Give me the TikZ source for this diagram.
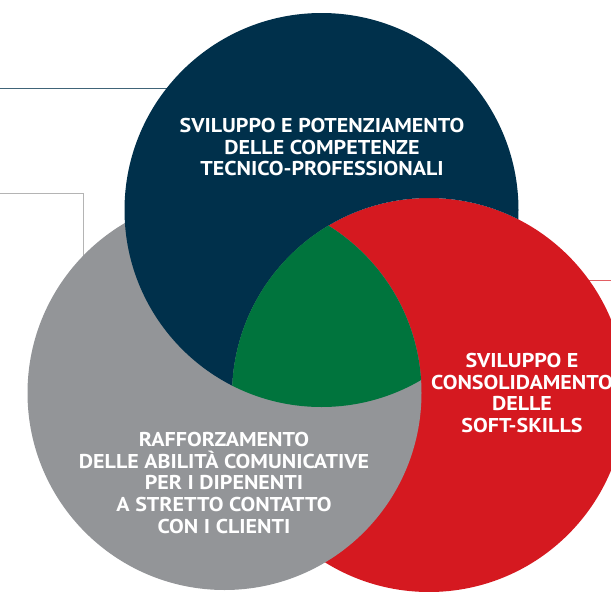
\documentclass[tikz,border=0pt]{standalone}
\usepackage{fontspec}
\setmainfont{PT Sans}[FakeStretch=1.1]
\definecolor{navyc}{HTML}{00304B}
\definecolor{redc}{HTML}{D51920}
\definecolor{grayc}{HTML}{939598}
\definecolor{greenc}{HTML}{00743D}
\definecolor{linegray}{HTML}{B4B4B4}
\newcommand{\navycircle}{(321.5,210) circle[radius=197]}
\newcommand{\redcircle}{(429,395) circle[radius=197]}
\newcommand{\graycircle}{(224.5,393) circle[radius=197]}
\tikzset{
  circletext/.style={text=white, font=\bfseries\fontsize{20}{21.7}\selectfont,
    align=center, inner sep=0pt, anchor=north},
  thinline/.style={line width=0.8pt}
}
\begin{document}
\begin{tikzpicture}[x=1pt,y=-1pt]
\useasboundingbox (0,0) rectangle (611,592);

% lines under the circles
\coordinate (navystart) at (0,88);
\coordinate (navyend)   at (220,88);
\coordinate (graystart) at (0,193);
\coordinate (grayknee)  at (83,193);
\coordinate (grayend)   at (83,300);
\coordinate (redstart)  at (560,280);
\coordinate (redend)    at (611,280);
\draw[thinline, navyc!75] (navystart) -- (navyend);
\draw[thinline, linegray] (graystart) -- (grayknee) -- (grayend);
\draw[thinline, redc!70] (redstart) -- (redend);

% circles: red under gray, gray under navy, navy under red
\fill[redc]  \redcircle;
\fill[grayc] \graycircle;
\begin{scope}
  \clip \navycircle;
  \fill[navyc, even odd rule] (-20,-20) rectangle (660,620) \redcircle;
\end{scope}
\begin{scope}
  \clip \navycircle;
  \clip \redcircle;
  \fill[greenc] \graycircle;
\end{scope}

% texts
\node[circletext] (tecnico) at (322,118)
  {SVILUPPO E POTENZIAMENTO\\DELLE COMPETENZE\\TECNICO-PROFESSIONALI};
\node[circletext] (soft) at (522,353)
  {SVILUPPO E\\CONSOLIDAMENTO\\DELLE\\SOFT-SKILLS};
\node[circletext] (comunicative) at (224,432)
  {RAFFORZAMENTO\\DELLE ABILITÀ COMUNICATIVE\\PER I DIPENENTI\\A STRETTO CONTATTO\\CON I CLIENTI};
\end{tikzpicture}
\end{document}
